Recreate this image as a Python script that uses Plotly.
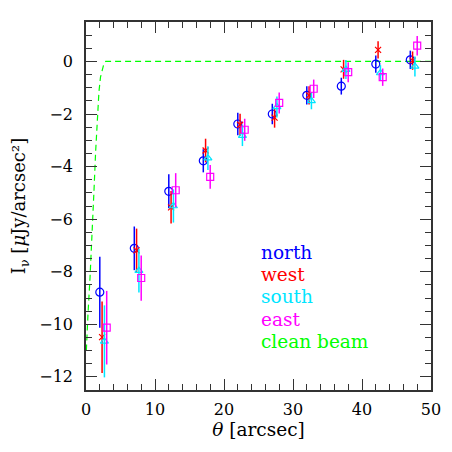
import plotly.graph_objects as go

# ---- data ----
theta = [2, 7, 12, 17, 22, 27, 32, 37, 42, 47]

north_y = [-8.78, -7.11, -4.94, -3.78, -2.38, -2.00, -1.29, -0.94, -0.10, 0.06]
north_err = [1.35, 0.83, 0.65, 0.44, 0.43, 0.39, 0.35, 0.32, 0.33, 0.35]
west_y = [-10.49, -7.19, -5.55, -3.39, -2.41, -2.14, -1.29, -0.30, 0.44, 0.03]
west_err = [1.36, 0.83, 0.62, 0.45, 0.42, 0.38, 0.35, 0.36, 0.33, 0.35]
south_y = [-10.65, -7.96, -5.50, -3.68, -2.82, -1.73, -1.50, -0.31, -0.44, -0.19]
south_err = [1.37, 0.83, 0.63, 0.45, 0.40, 0.40, 0.32, 0.36, 0.30, 0.38]
east_y = [-10.13, -8.24, -4.90, -4.39, -2.60, -1.58, -1.04, -0.41, -0.60, 0.60]
east_err = [1.40, 0.86, 0.65, 0.45, 0.42, 0.40, 0.35, 0.38, 0.33, 0.37]

beam_x = [0.05, 0.10, 0.29, 0.58, 0.77, 1.01, 1.16, 1.40, 1.64, 1.88, 2.10, 2.37, 2.60, 2.85, 3.20, 50.0]
beam_y = [-11.0, -10.5, -9.6, -8.24, -6.9, -5.7, -4.9, -3.42, -2.03, -1.14, -0.60, -0.25, -0.08, 0.0, 0.0, 0.0]

labels = ["north", "west", "south", "east", "clean beam"]
colors = ["#0000ff", "#ff0000", "#00e5ff", "#ff00ff", "#00ff00"]

series = [
    (north_y, north_err, 0.0, "circle-open", 8),
    (west_y, west_err, 0.33, "x-thin-open", 6),
    (south_y, south_err, 0.67, "triangle-up-open", 7),
    (east_y, east_err, 1.0, "square-open", 7),
]

FONT = "DejaVu Serif"
fig = go.Figure()

fig.add_trace(go.Scatter(
    x=beam_x, y=beam_y, mode="lines",
    line=dict(color=colors[4], width=1.2, dash="6px,4px"),
    showlegend=False, hoverinfo="skip"))

for (yv, ev, off, sym, sz), col, name in zip(series, colors[:4], labels[:4]):
    fig.add_trace(go.Scatter(
        x=[t + off for t in theta], y=yv, mode="markers", name=name,
        marker=dict(symbol=sym, size=sz, color=col, line=dict(color=col, width=1.2)),
        error_y=dict(type="data", array=ev, visible=True, width=0,
                     thickness=1.5, color=col),
        showlegend=False))

# text-only legend
leg_y = [-7.26, -8.12, -8.96, -9.8, -10.64]
for lab, col, yy in zip(labels, colors, leg_y):
    fig.add_annotation(x=25.0, y=yy, text=lab, showarrow=False,
                       xanchor="left", yanchor="middle",
                       font=dict(family=FONT, size=18.5, color=col))

axis_common = dict(
    showline=True, linecolor="#333333", linewidth=1.5, mirror="allticks",
    ticks="inside", ticklen=11, tickwidth=1.2, tickcolor="#333333",
    showgrid=False, zeroline=False, automargin=False,
    tickfont=dict(family=FONT, size=16, color="black"),
)

fig.update_xaxes(range=[0, 50], dtick=10, tick0=0,
                 minor=dict(ticks="inside", dtick=2, ticklen=6, tickcolor="#333333", tickwidth=1),
                 title=dict(text="<i>θ</i> [arcsec]", font=dict(family=FONT, size=18.5, color="black"), standoff=5),
                 ticklabelstandoff=4,
                 **axis_common)
fig.update_yaxes(range=[-12.5, 1.5], dtick=2, tick0=0,
                 minor=dict(ticks="inside", dtick=0.5, ticklen=6, tickcolor="#333333", tickwidth=1),
                 title=dict(text="I<sub>ν</sub> [<i>μ</i>Jy/arcsec²]", font=dict(family=FONT, size=18, color="black"), standoff=17),
                 ticklabelstandoff=8,
                 **axis_common)

# page body has an 8px default margin; sizes compensate for it
fig.update_layout(
    width=436, height=436,
    margin=dict(l=78, r=13, t=14, b=54),
    plot_bgcolor="white", paper_bgcolor="white",
    font=dict(family=FONT),
)

fig.write_html("out.html")
